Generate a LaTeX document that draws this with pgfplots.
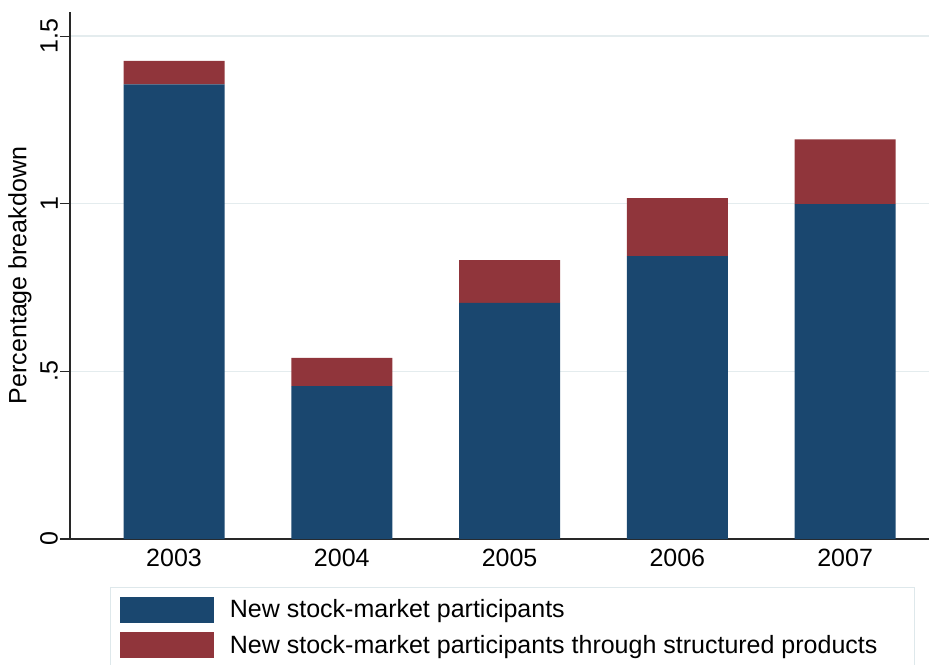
\documentclass[border=0pt]{standalone}
\usepackage{fontspec}
\setmainfont{Liberation Sans}
\usepackage{pgfplots}
\pgfplotsset{compat=1.18}
\definecolor{stnavy}{RGB}{26,71,111}
\definecolor{stmaroon}{RGB}{144,53,59}
\definecolor{stgrid}{RGB}{228,236,238}
\definecolor{stlegend}{RGB}{222,232,235}
\definecolor{staxis}{RGB}{40,40,40}
\newcommand{\bigf}{\fontsize{25}{30}\selectfont}
\pgfplotsset{
  swatch/.style={legend image code/.code={\fill[##1] (0pt,-5pt) rectangle (94pt,21pt);}}
}
\begin{document}
\begin{tikzpicture}
\useasboundingbox (0,0) rectangle (929pt,664pt);
\begin{axis}[
    at={(70pt,125pt)}, anchor=south west,
    scale only axis, width=859pt, height=527pt,
    xmin=-0.62, xmax=4.5, ymin=0, ymax=1.572,
    ybar stacked, bar width=101pt,
    axis lines=left, axis line style={-, draw=staxis, line width=1.2pt},
    xtick=\empty,
    extra x ticks={0,1,2,3,4},
    extra x tick labels={2003,2004,2005,2006,2007},
    extra x tick style={major tick length=0pt,
      xticklabel style={inner sep=0pt, yshift=-10pt}},
    ytick={0,0.5,1,1.5}, yticklabels={0,.5,1,1.5},
    tick style={draw=staxis, line width=1.2pt},
    tick align=outside, major tick length=10pt,
    ymajorgrids, grid style={stgrid, line width=1.4pt},
    tick label style={font=\bigf},
    yticklabel style={xshift=-2pt, rotate=90, anchor=south, inner sep=0pt},
    ylabel={Percentage breakdown},
    label style={font=\bigf},
    ylabel style={at={(axis description cs:-0.0582,0.5)}, anchor=center},
    legend style={at={(axis description cs:0.0466,-0.0911)}, anchor=north west,
      draw=stlegend, line width=0.8pt, inner sep=9.5pt,
      nodes={inner sep=0pt, anchor=base west, font=\bigf},
      column sep=16pt, row sep=9.5pt},
    legend cell align=left,
]
\addplot[fill=stnavy, draw=none, swatch] coordinates
  {(0,1.356) (1,0.456) (2,0.704) (3,0.844) (4,0.999)};
\addplot[fill=stmaroon, draw=none, swatch] coordinates
  {(0,0.070) (1,0.084) (2,0.128) (3,0.173) (4,0.193)};
\addlegendentry{New stock-market participants}
\addlegendentry{New stock-market participants through structured products\hspace*{27pt}}
\end{axis}
\end{tikzpicture}
\end{document}
